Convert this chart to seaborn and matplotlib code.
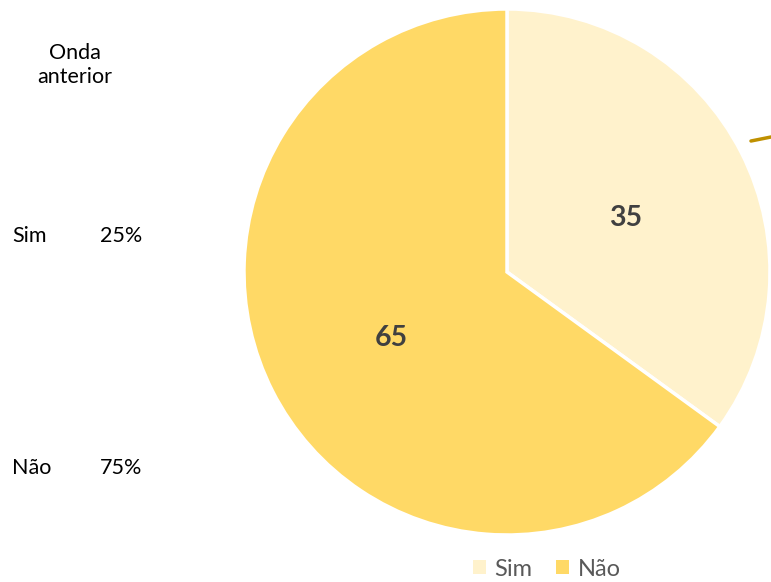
import matplotlib
matplotlib.use('Agg')
import matplotlib.pyplot as plt
import matplotlib.transforms as mtransforms
import seaborn as sns
from matplotlib.patches import Patch
from matplotlib.lines import Line2D

# Data
categories = ['Sim', 'Não']
values = [35, 65]
previous_labels = ['Sim', 'Não']
previous_values = ['25%', '75%']
colors = ['#FFF2CC', '#FFD966']

sns.set_theme(style='white')
plt.rcParams['font.family'] = ['Lato', 'DejaVu Sans']
text_color = '#404040'

fig = plt.figure(figsize=(7.71, 5.82), dpi=100)
ax = fig.add_axes([244 / 771, 47 / 582, 526 / 771, 526 / 582])

wedges, texts = ax.pie(values, colors=colors, startangle=90, counterclock=False,
                       labels=[str(v) for v in values], labeldistance=0.5,
                       wedgeprops=dict(edgecolor='white', linewidth=2.5),
                       textprops=dict(fontsize=20.5, fontweight='bold', color=text_color))
shift = mtransforms.offset_copy(ax.transData, fig=fig, x=1, y=-3.5, units='dots')
for t in texts:
    t.set_ha('center')
    t.set_va('center_baseline')
    t.set_transform(shift)
ax.set_aspect('equal')
ax.set_xlim(-1, 1)
ax.set_ylim(-1, 1)
ax.axis('off')

# Previous wave column
fig.text(75 / 771, 1 - 65 / 582, 'Onda\nanterior', ha='center', va='center',
         fontsize=15.5, color='#000000', linespacing=1.3)
for lab, val, y in zip(previous_labels, previous_values, [236, 468]):
    fig.text(12 / 771, 1 - y / 582, lab, ha='left', va='center', fontsize=15.5, color='#000000')
    fig.text(100 / 771, 1 - y / 582, val, ha='left', va='center', fontsize=15.5, color='#000000')

# Small leader line at right edge
fig.add_artist(Line2D([751 / 771, 771 / 771], [1 - 141 / 582, 1 - 137 / 582],
                      transform=fig.transFigure, color='#BF9000', linewidth=2.5))

# Legend
handles = [Patch(facecolor=c, edgecolor='none', label=l) for c, l in zip(colors, categories)]
fig.legend(handles=handles, loc='center', bbox_to_anchor=(547 / 771, 1 - 569 / 582),
           ncol=2, frameon=False, fontsize=17, handlelength=0.55, handleheight=0.55,
           handletextpad=0.35, columnspacing=1.0, labelcolor='#595959',
           borderpad=0, borderaxespad=0)

fig.savefig('out.png', dpi=100)
